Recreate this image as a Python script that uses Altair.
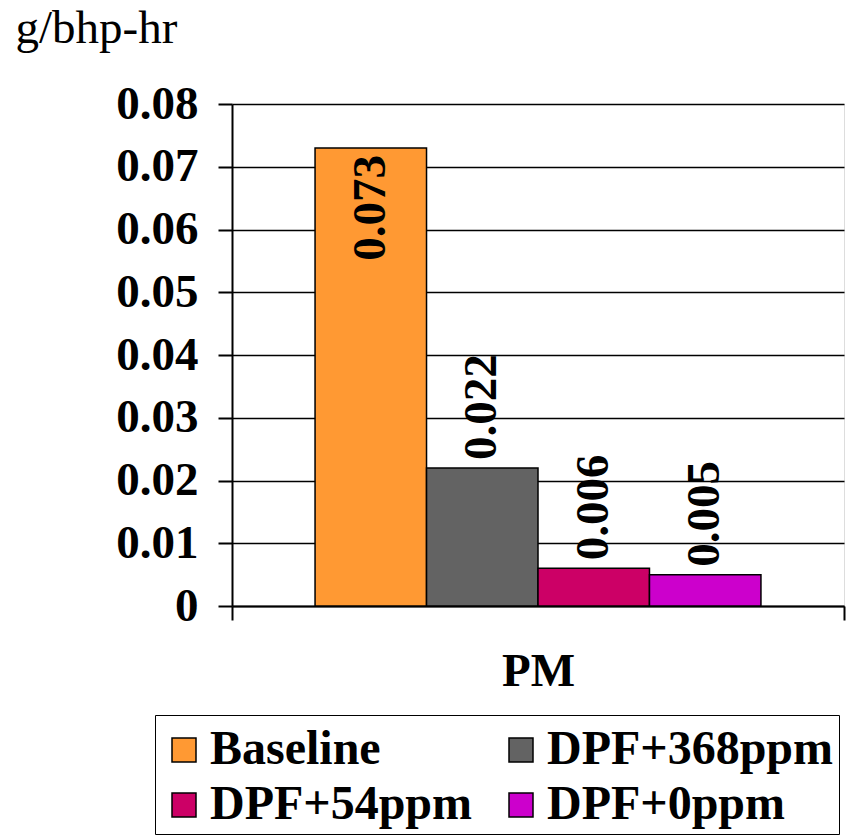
import altair as alt
import pandas as pd

# PM emissions per configuration (g/bhp-hr)
series = ["Baseline", "DPF+368ppm", "DPF+54ppm", "DPF+0ppm"]
values = [0.073, 0.022, 0.006, 0.005]
colors = ["#FF9933", "#636363", "#CC0066", "#CC00CC"]
category = "PM"
y_ticks = [0, 0.01, 0.02, 0.03, 0.04, 0.05, 0.06, 0.07, 0.08]

df = pd.DataFrame({"cat": [category] * len(series), "series": series, "value": values})

FONT = "Liberation Serif"
W, H = 612, 502

x_enc = alt.X(
    "cat:N",
    title=None,
    scale=alt.Scale(paddingInner=0, paddingOuter=0),
    axis=alt.Axis(
        tickBand="extent",
        labelAngle=0,
        labelFont=FONT,
        labelFontSize=47,
        labelFontWeight="bold",
        labelColor="black",
        labelPadding=28,
        tickSize=14,
        tickColor="black",
        tickWidth=2,
        domainColor="black",
        domainWidth=2,
        grid=False,
    ),
)
xoff_enc = alt.XOffset(
    "series:N",
    sort=series,
    scale=alt.Scale(paddingInner=0, paddingOuter=0.745),
)
y_enc = alt.Y(
    "value:Q",
    title="g/bhp-hr",
    scale=alt.Scale(domain=[0, 0.08], nice=False),
    axis=alt.Axis(
        values=y_ticks,
        labelExpr="datum.value == 0 ? '0' : format(datum.value, '.2f')",
        labelFont=FONT,
        labelFontSize=47,
        labelFontWeight="bold",
        labelColor="black",
        labelPadding=20,
        tickSize=14,
        tickColor="black",
        tickWidth=2,
        domainColor="black",
        domainWidth=2,
        gridColor="black",
        gridWidth=1.6,
        titleAngle=0,
        titleAlign="left",
        titleBaseline="alphabetic",
        titleX=-217,
        titleY=-62,
        titleFont=FONT,
        titleFontSize=47,
        titleFontWeight="normal",
        titleColor="black",
    ),
)
color_enc = alt.Color(
    "series:N",
    sort=series,
    scale=alt.Scale(domain=series, range=colors),
    legend=alt.Legend(
        # blank title only adds a little head room above the first row
        title=" ",
        titleFontSize=1,
        titlePadding=5,
        orient="none",
        direction="horizontal",
        legendX=-77,
        legendY=611,
        columns=2,
        columnPadding=24,
        rowPadding=7,
        padding=5,
        fillColor="white",
        strokeColor="black",
        symbolType="square",
        symbolSize=576,
        symbolStrokeColor="black",
        symbolStrokeWidth=1.5,
        labelFont=FONT,
        labelFontSize=48,
        labelFontWeight="bold",
        labelColor="black",
        labelOffset=2,
        labelLimit=400,
    ),
)

base = alt.Chart(df)

bars = base.mark_bar(stroke="black", strokeWidth=1.5).encode(
    x=x_enc, xOffset=xoff_enc, y=y_enc, color=color_enc
)

text_style = dict(
    angle=270,
    baseline="middle",
    font=FONT,
    fontSize=47,
    fontWeight="bold",
    color="black",
)

labels_out = base.transform_filter("datum.value < 0.06").mark_text(
    align="left", dx=8, **text_style
).encode(
    x=alt.X("cat:N"),
    xOffset=alt.XOffset("series:N", sort=series),
    y=alt.Y("value:Q"),
    text=alt.Text("value:Q", format=".3f"),
)

labels_in = base.transform_filter("datum.value >= 0.06").mark_text(
    align="right", dx=-7, **text_style
).encode(
    x=alt.X("cat:N"),
    xOffset=alt.XOffset("series:N", sort=series),
    y=alt.Y("value:Q"),
    text=alt.Text("value:Q", format=".3f"),
)

chart = (
    alt.layer(bars, labels_out, labels_in)
    .properties(
        width=W,
        height=H,
        autosize=alt.AutoSizeParams(type="none"),
        padding={"left": 232, "top": 104, "right": 2, "bottom": 234},
    )
    .configure_view(stroke=None)
    .configure(background="white")
)

chart.save("out.html", embed_options={"renderer": "svg", "actions": False})
